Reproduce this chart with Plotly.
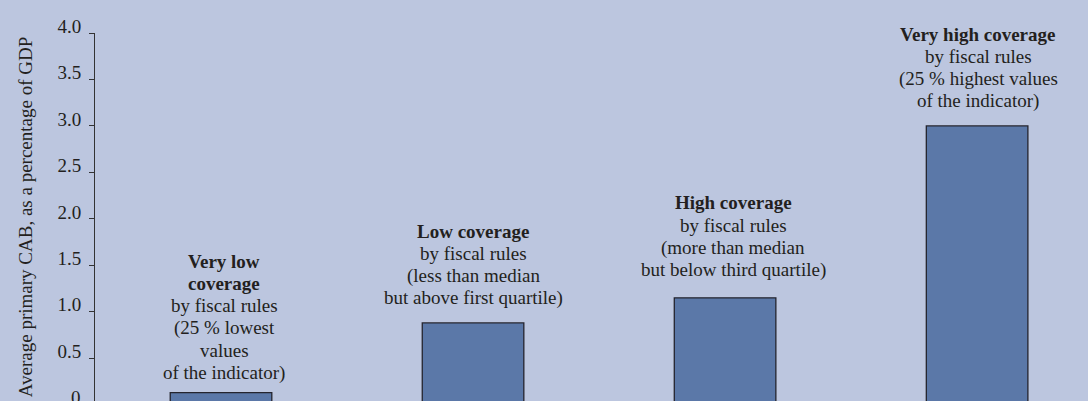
import plotly.graph_objects as go

# bar chart: primary CAB by coverage of fiscal rules
categories = ["Very low coverage", "Low coverage", "High coverage", "Very high coverage"]
values = [0.13, 0.88, 1.15, 3.0]
label_bold = [["Very low", "coverage"], ["Low coverage"], ["High coverage"], ["Very high coverage"]]
label_rest = [
    ["by fiscal rules", "(25 % lowest", "values", "of the indicator)"],
    ["by fiscal rules", "(less than median", "but above first quartile)"],
    ["by fiscal rules", "(more than median", "but below third quartile)"],
    ["by fiscal rules", "(25 % highest values", "of the indicator)"],
]
tick_vals = [0, 0.5, 1.0, 1.5, 2.0, 2.5, 3.0, 3.5, 4.0]
tick_text = ["0", "0.5", "1.0", "1.5", "2.0", "2.5", "3.0", "3.5", "4.0"]
y_title = "Average primary CAB, as a percentage of GDP"

BG = "#bcc6df"
BAR = "#5b78a8"
INK = "#231f20"
FONT = "Liberation Serif"
FS = 19
LINE_H = 22.3

y_range = [0.04, 4.0]
label_gap = [20, 25, 28, 24.5]   # px from bar top to centre of last text line
label_dx = [3, 0, 8, 1]

fig = go.Figure()
fig.add_trace(go.Bar(
    x=list(range(len(categories))), y=values,
    marker=dict(color=BAR, line=dict(color="#24242e", width=1.3)),
    width=0.403, hoverinfo="skip",
))

# one annotation per text line so the line spacing can be matched
for i, v in enumerate(values):
    lines = ["<b>%s</b>" % s for s in label_bold[i]] + label_rest[i]
    n = len(lines)
    for k, line in enumerate(lines):
        fig.add_annotation(x=i, y=v, text=line, showarrow=False, yanchor="middle",
                           yshift=label_gap[i] + (n - 1 - k) * LINE_H,
                           xshift=label_dx[i],
                           font=dict(family=FONT, size=FS, color=INK))

# the 0 label sits just below the visible plot area
fig.add_annotation(xref="paper", yref="paper", x=0, xanchor="right", yanchor="middle",
                   xshift=-12, yshift=7,
                   y=(tick_vals[0] - y_range[0]) / (y_range[1] - y_range[0]),
                   text=tick_text[0], showarrow=False,
                   font=dict(family=FONT, size=FS, color=INK))

fig.update_xaxes(range=[-0.5, 3.44], showticklabels=False, showgrid=False,
                 zeroline=False, showline=False, ticks="")
fig.update_yaxes(range=y_range, tickvals=tick_vals[1:], ticktext=tick_text[1:],
                 showgrid=False, zeroline=False, showline=True, linecolor="#333333",
                 linewidth=1, ticks="outside", ticklen=5, tickcolor="#333333",
                 ticklabelshift=-7, ticklabelstandoff=4,
                 tickfont=dict(family=FONT, size=FS, color=INK),
                 title=dict(text=y_title, standoff=19,
                            font=dict(family=FONT, size=FS, color=INK)))
fig.update_layout(width=1088, height=401, paper_bgcolor=BG, plot_bgcolor=BG,
                  margin=dict(l=95, r=0, t=33, b=0), showlegend=False)

fig.write_html("out.html", config={"displayModeBar": False},
               post_script="document.body.style.margin='0';")
